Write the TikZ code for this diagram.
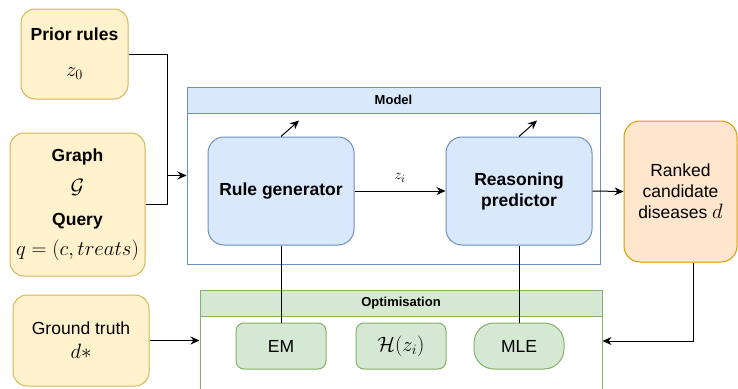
\documentclass[tikz,border=0pt]{standalone}
\usepackage{fontspec}
\setsansfont{Liberation Sans}
\usetikzlibrary{arrows.meta}
\definecolor{inFill}{HTML}{FFF2CC}
\definecolor{inLine}{HTML}{D6B656}
\definecolor{mdFill}{HTML}{DAE8FC}
\definecolor{mdLine}{HTML}{6C8EBF}
\definecolor{opFill}{HTML}{D5E8D4}
\definecolor{opLine}{HTML}{82B366}
\definecolor{outFill}{HTML}{FFE6CC}
\definecolor{outLine}{HTML}{D79B00}
\newcommand{\mfmla}[1]{{\fontsize{21}{24}\selectfont$#1$}}
\tikzset{
  txt/.style={font=\sffamily\fontsize{17.5}{21}\selectfont, align=center, inner sep=0pt},
  inbox/.style={txt, draw=inLine, fill=inFill, rounded corners=14pt},
  outbox/.style={txt, draw=outLine, fill=outFill, rounded corners=16pt},
  mdbox/.style={txt, draw=mdLine, fill=mdFill, rounded corners=16pt, font=\sffamily\bfseries\fontsize{17.5}{21}\selectfont},
  opbox/.style={txt, draw=opLine, fill=opFill, rounded corners=8pt},
  frame/.style={draw=#1, fill=white, inner sep=0pt},
  header/.style={draw=#1, inner sep=0pt, font=\sffamily\bfseries\fontsize{13}{15}\selectfont}
}

\begin{document}
\begin{tikzpicture}[x=1pt, y=-1pt, line width=1pt, >={Stealth[length=9pt,width=8pt]}]
    \clip (0,0) rectangle (738,388);
    % inputs
    \node[inbox, minimum width=107pt, minimum height=90pt] (prior) at (74.5,54)
      {\textbf{Prior rules}\\[15pt]\mfmla{z_0}};
    \node[inbox, minimum width=135pt, minimum height=143pt] (graph) at (77.5,204.5)
      {\textbf{Graph}\\[11pt]\mfmla{\mathcal{G}}\\[11pt]\textbf{Query}\\[9pt]\mfmla{q=(c,treats)}};
    \node[inbox, minimum width=136pt, minimum height=91pt] (truth) at (81,340.5)
      {Ground truth\\[3pt]\mfmla{d*}};
    % model container
    \node[frame=mdLine, minimum width=413pt, minimum height=177pt] (model) at (393.5,175.5) {};
    \node[header=mdLine, fill=mdFill, minimum width=413pt, minimum height=26pt, anchor=north] (modelhead)
      at (model.north) {Model};
    \node[mdbox, minimum width=146pt, minimum height=108pt] (rulegen) at (281,191) {Rule generator};
    \node[mdbox, minimum width=146pt, minimum height=108pt] (reason) at (519,191) {Reasoning\\predictor};
    % output
    \node[outbox, minimum width=113pt, minimum height=141pt] (ranked) at (680.5,191.5)
      {Ranked\\candidate\\diseases \mfmla{d}};
    % optimisation container
    \node[frame=opLine, minimum width=402pt, minimum height=104pt] (opt) at (401,342) {};
    \node[header=opLine, fill=opFill, minimum width=402pt, minimum height=26pt, anchor=north] (opthead)
      at (opt.north) {Optimisation};
    \node[opbox, minimum width=90pt, minimum height=46pt] (em) at (281,346) {EM};
    \node[opbox, minimum width=90pt, minimum height=46pt] (ent) at (401,346) {\mfmla{\mathcal{H}(z_i)}};
    \node[opbox, rounded corners=20pt, minimum width=90pt, minimum height=46pt] (mle) at (519,346) {MLE};
    % connectors
    \coordinate (join) at (167,175.5);
    \coordinate (fb) at (693,341);
    \draw (prior.east) -| (join);
    \draw (graph.east) -| (join);
    \draw[->] (join) -- (model.west);
    \draw[->] (rulegen.east) -- node[above=5pt, font=\fontsize{15}{18}\selectfont]{$z_i$} (reason.west);
    \draw[->] (reason.east) -- (ranked.west);
    \draw[->] (rulegen.north) -- ++(18,-16);
    \draw[->] (reason.north) -- ++(18,-16);
    \draw (rulegen.south) -- (em.north);
    \draw (reason.south) -- (mle.north);
    \draw[->] (ranked.south -| fb) -- (fb) -- (opt.east |- fb);
    \draw[->] (truth.east) -- (opt.west |- truth.east);
  \end{tikzpicture}
\end{document}
